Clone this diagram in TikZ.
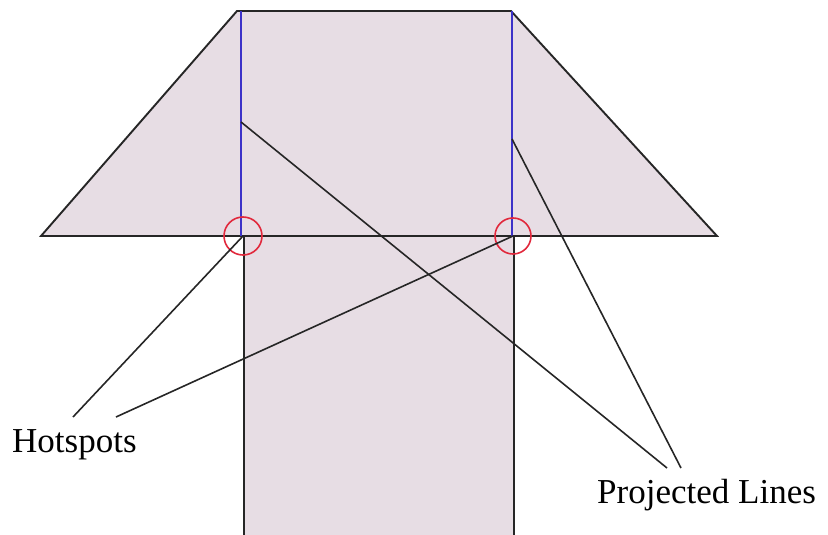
\documentclass[tikz,border=0pt]{standalone}
\usepackage{fontspec}
\setmainfont{Liberation Serif}
\definecolor{shapefill}{RGB}{231,221,228}
\definecolor{projblue}{RGB}{60,50,200}
\definecolor{hotred}{RGB}{225,40,60}
\begin{document}
\begin{tikzpicture}[x=1pt,y=-1pt,
  edge/.style={draw=black!85, line width=1.9pt},
  guide/.style={draw=projblue, line width=1.8pt},
  hotcircle/.style={draw=hotred, line width=1.6pt},
  leader/.style={draw=black!85, line width=1.6pt},
  label/.style={font=\fontsize{35}{40}\selectfont, inner sep=0pt, anchor=base west}]
\useasboundingbox (0,0) rectangle (828,535);
% coordinates
\coordinate (tl) at (237,11);
\coordinate (tr) at (511,11);
\coordinate (bl) at (41,236);
\coordinate (br) at (717,236);
\coordinate (rl) at (244,236);
\coordinate (rr) at (514,236);
\coordinate (rlb) at (244,536);
\coordinate (rrb) at (514,536);
\coordinate (hl) at (243,236);
\coordinate (hr) at (513,236);
\coordinate (pl) at (241,122);
\coordinate (pr) at (512,139);
\coordinate (h1) at (73,417);
\coordinate (h2) at (116,417);
\coordinate (p1) at (667,468);
\coordinate (p2) at (681,468);
% fill
\fill[shapefill] (tl) -- (tr) -- (br) -- (bl) -- cycle;
\fill[shapefill] (rl) rectangle (rrb);
% outline
\draw[edge] (bl) -- (tl) -- (tr) -- (br) -- cycle;
\draw[edge] (rl) -- (rlb);
\draw[edge] (rr) -- (rrb);
% blue guides
\draw[guide] (241,11) -- (241,236);
\draw[guide] (512,11) -- (512,236);
% hotspots
\draw[hotcircle] (hl) circle (19);
\draw[hotcircle] (hr) circle (18);
% leaders
\draw[leader] (hl) -- (h1);
\draw[leader] (hr) -- (h2);
\draw[leader] (pl) -- (p1);
\draw[leader] (pr) -- (p2);
% labels
\node[label] (hot) at (12,452) {Hotspots};
\node[label] (proj) at (597,503) {Projected Lines};
\end{tikzpicture}
\end{document}
